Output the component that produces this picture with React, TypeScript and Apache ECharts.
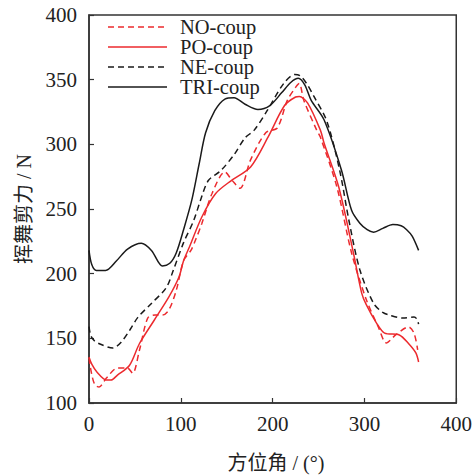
import React, { useEffect, useRef } from "react";
import * as echarts from "echarts";

const seriesNames = ["NO-coup", "PO-coup", "NE-coup", "TRI-coup"];
const xTicks = [0, 100, 200, 300, 400];
const yTicks = [100, 150, 200, 250, 300, 350, 400];

const noX = [0, 3, 6.5, 11, 19, 31, 42, 47.5, 55, 64, 72, 80, 87, 95, 103, 111, 116, 123, 134, 148, 156, 164.5, 176, 192.5, 205, 216, 225, 229, 234, 248, 252, 270, 286, 302, 315, 324, 334, 348, 354, 358];
const noY = [134.8, 122, 114, 112.4, 119.3, 127, 127, 123, 141, 165.7, 168, 168, 172, 187, 210, 218, 226, 239, 262, 278.6, 272, 266, 288, 309, 312.6, 334, 344, 347, 334, 311, 305.6, 267, 216, 180, 159, 146.4, 152.6, 158.8, 154, 141];

const poX = [0, 3, 8.6, 19, 24, 31, 44, 55, 71, 87, 98, 103, 109, 123, 138, 155, 176, 195, 213, 225, 229, 238, 252, 256, 272, 288, 297, 302, 313, 322, 338, 348, 356, 359];
const poY = [135.6, 130, 124, 117.8, 117.8, 121.6, 129, 146, 164, 182, 197.4, 210, 220, 244, 262, 272, 282.5, 305.6, 330, 336.6, 337, 332, 311, 301, 267, 216, 185, 176, 162, 154, 152.6, 146, 138.7, 131.7];

const neX = [0, 2, 6, 14, 26, 35, 45, 53, 68, 84, 92, 103, 114, 122, 130, 144, 158, 170, 180, 194, 212, 224, 230, 237, 245, 259, 273, 283, 295, 310, 320, 327, 342, 354, 357, 359];
const neY = [159, 152, 148, 145, 142.5, 147, 157, 166, 177, 189, 203, 224, 241, 258, 272, 280, 292, 305, 311, 326, 347, 354, 353, 347, 337, 318, 280, 241.5, 203, 177, 170, 168, 165.7, 166.5, 165, 161];

const triX = [0, 3, 8, 18, 30, 42, 57, 68, 80, 88, 95, 103, 112, 120, 127, 137, 148, 158, 170, 184, 197, 210, 220, 228, 235, 242, 256, 275, 286, 295, 303, 310, 320, 331, 340, 346, 352, 359];
const triY = [218, 207, 202.5, 202.5, 210, 219, 223.5, 218, 206, 208, 216, 234, 257, 285, 309, 326, 335, 336, 331, 327, 330, 340, 348, 351, 346, 334, 319, 280, 249, 239, 234, 232, 235, 238, 237, 234, 229, 218];

const RED = "#ec2a2e";
const BLACK = "#1a1a1a";
const AXIS = "#333333";
const SERIF = "'Liberation Serif', 'Times New Roman', serif";
const CJK = "'Liberation Serif', 'Noto Sans CJK SC', serif";

const seriesColors = [RED, RED, BLACK, BLACK];
const seriesDashed = [true, false, true, false];

function pairs(xs: number[], ys: number[]) {
  return xs.map((x, i) => [x, ys[i]]);
}

export default function App() {
  const ref = useRef<HTMLDivElement>(null);
  useEffect(() => {
    if (!ref.current) return;
    const chart = echarts.init(ref.current, undefined, { renderer: "svg" });
    const mk = (i: number, xs: number[], ys: number[]) => ({
      name: seriesNames[i],
      type: "line",
      data: pairs(xs, ys),
      symbol: "none",
      smooth: 0.3,
      lineStyle: { color: seriesColors[i], width: 1.5, type: seriesDashed[i] ? [6, 4] : "solid" },
      itemStyle: { color: seriesColors[i] },
    });
    const legendGraphics: any[] = [];
    seriesNames.forEach((name, i) => {
      const y = 27 + i * 20;
      legendGraphics.push({
        type: "line",
        shape: { x1: 108, y1: y, x2: 167, y2: y },
        style: {
          stroke: seriesColors[i],
          lineWidth: 1.5,
          lineDash: seriesDashed[i] ? [6, 4] : null,
        },
      });
      legendGraphics.push({
        type: "text",
        x: 180,
        y: y - 0.5,
        style: {
          text: name,
          fontFamily: SERIF,
          fontSize: 20.5,
          lineHeight: 17,
          fill: "#222",
          align: "left",
          verticalAlign: "middle",
        },
      });
    });
    chart.setOption({
      animation: false,
      backgroundColor: "#ffffff",
      grid: {
        left: 89,
        right: 14,
        top: 15,
        bottom: 72,
        show: true,
        borderColor: AXIS,
        borderWidth: 1.5,
      },
      xAxis: {
        type: "value",
        min: xTicks[0],
        max: xTicks[xTicks.length - 1],
        interval: 100,
        axisLine: { show: true, lineStyle: { color: AXIS, width: 1.5 } },
        axisTick: { show: true, inside: true, length: 5, lineStyle: { color: AXIS, width: 1.2 } },
        axisLabel: { fontFamily: SERIF, fontSize: 21, color: "#222", margin: 10 },
        splitLine: { show: false },
      },
      yAxis: {
        type: "value",
        min: yTicks[0],
        max: yTicks[yTicks.length - 1],
        interval: 50,
        axisLine: { show: true, lineStyle: { color: AXIS, width: 1.5 } },
        axisTick: { show: true, inside: true, length: 5, lineStyle: { color: AXIS, width: 1.2 } },
        axisLabel: { fontFamily: SERIF, fontSize: 21, color: "#222", margin: 12 },
        splitLine: { show: false },
      },
      graphic: [
        ...legendGraphics,
        {
          type: "text",
          x: 276,
          y: 463,
          style: {
            text: "方位角 / (°)",
            fontFamily: CJK,
            fontSize: 20,
            fill: "#222",
            align: "center",
            verticalAlign: "middle",
          },
        },
        {
          type: "text",
          x: 24,
          y: 209,
          rotation: Math.PI / 2,
          style: {
            text: "挥舞剪力 / N",
            fontFamily: CJK,
            fontSize: 20,
            fill: "#222",
            align: "center",
            verticalAlign: "middle",
          },
        },
      ],
      series: [
        mk(0, noX, noY),
        mk(1, poX, poY),
        mk(2, neX, neY),
        mk(3, triX, triY),
      ],
    });
    return () => chart.dispose();
  }, []);
  return (
    <div
      ref={ref}
      style={{ position: "fixed", left: 0, top: 0, width: 475, height: 475, background: "#fff" }}
    />
  );
}
